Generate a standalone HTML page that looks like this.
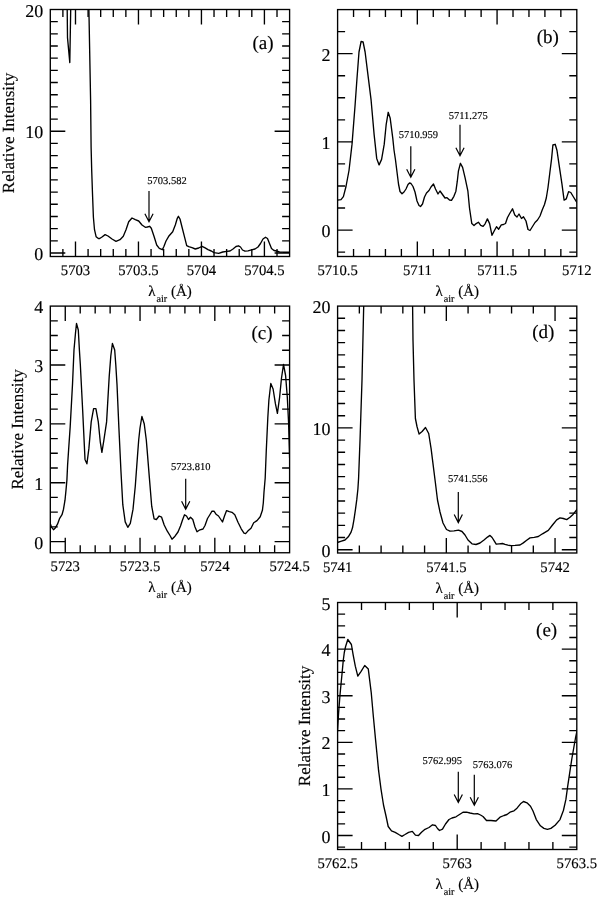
<!DOCTYPE html>
<html><head><meta charset="utf-8"><style>
html,body{margin:0;padding:0;background:#fff;}
svg{display:block;will-change:transform;}
text{font-family:"Liberation Serif", serif;fill:#000;text-rendering:geometricPrecision;stroke:#000;stroke-width:0.15px;}
</style></head><body>
<svg width="600" height="897" viewBox="0 0 600 897">
<rect width="600" height="897" fill="#fff"/>
<path d="M62.89 256.5V249.0M62.89 9.5V17.0M75.49 256.5V241.5M75.49 9.5V24.5M88.08 256.5V249.0M88.08 9.5V17.0M100.68 256.5V249.0M100.68 9.5V17.0M113.27 256.5V249.0M113.27 9.5V17.0M125.87 256.5V249.0M125.87 9.5V17.0M138.46 256.5V241.5M138.46 9.5V24.5M151.06 256.5V249.0M151.06 9.5V17.0M163.65 256.5V249.0M163.65 9.5V17.0M176.25 256.5V249.0M176.25 9.5V17.0M188.84 256.5V249.0M188.84 9.5V17.0M201.44 256.5V241.5M201.44 9.5V24.5M214.03 256.5V249.0M214.03 9.5V17.0M226.63 256.5V249.0M226.63 9.5V17.0M239.22 256.5V249.0M239.22 9.5V17.0M251.82 256.5V249.0M251.82 9.5V17.0M264.41 256.5V241.5M264.41 9.5V24.5M277.01 256.5V249.0M277.01 9.5V17.0M50.3 252.97H65.3M289.6 252.97H274.6M50.3 240.80H57.8M289.6 240.80H282.1M50.3 228.62H57.8M289.6 228.62H282.1M50.3 216.45H57.8M289.6 216.45H282.1M50.3 204.28H57.8M289.6 204.28H282.1M50.3 192.10H57.8M289.6 192.10H282.1M50.3 179.93H57.8M289.6 179.93H282.1M50.3 167.76H57.8M289.6 167.76H282.1M50.3 155.58H57.8M289.6 155.58H282.1M50.3 143.41H57.8M289.6 143.41H282.1M50.3 131.23H65.3M289.6 131.23H274.6M50.3 119.06H57.8M289.6 119.06H282.1M50.3 106.89H57.8M289.6 106.89H282.1M50.3 94.71H57.8M289.6 94.71H282.1M50.3 82.54H57.8M289.6 82.54H282.1M50.3 70.37H57.8M289.6 70.37H282.1M50.3 58.19H57.8M289.6 58.19H282.1M50.3 46.02H57.8M289.6 46.02H282.1M50.3 33.85H57.8M289.6 33.85H282.1M50.3 21.67H57.8M289.6 21.67H282.1" stroke="#000" stroke-width="1.35" fill="none"/>
<rect x="50.3" y="9.5" width="239.30" height="247.00" stroke="#000" stroke-width="1.35" fill="none"/>
<text x="75.49" y="275.00" font-size="14.7" text-anchor="middle">5703</text>
<text x="138.46" y="275.00" font-size="14.7" text-anchor="middle">5703.5</text>
<text x="201.44" y="275.00" font-size="14.7" text-anchor="middle">5704</text>
<text x="264.41" y="275.00" font-size="14.7" text-anchor="middle">5704.5</text>
<text x="43.30" y="259.97" font-size="18" text-anchor="end">0</text>
<text x="43.30" y="138.23" font-size="18" text-anchor="end">10</text>
<text x="43.30" y="16.50" font-size="18" text-anchor="end">20</text>
<text x="169.95" y="296.00" font-size="15" text-anchor="middle">λ<tspan font-size="10.2" dx="1" dy="6.2">air</tspan><tspan dy="-6.2"> (Å)</tspan></text>
<path d="M353.55 256.5V249.0M353.55 9.6V17.1M369.49 256.5V249.0M369.49 9.6V17.1M385.44 256.5V249.0M385.44 9.6V17.1M401.39 256.5V249.0M401.39 9.6V17.1M417.33 256.5V241.5M417.33 9.6V24.6M433.28 256.5V249.0M433.28 9.6V17.1M449.23 256.5V249.0M449.23 9.6V17.1M465.17 256.5V249.0M465.17 9.6V17.1M481.12 256.5V249.0M481.12 9.6V17.1M497.07 256.5V241.5M497.07 9.6V24.6M513.01 256.5V249.0M513.01 9.6V17.1M528.96 256.5V249.0M528.96 9.6V17.1M544.91 256.5V249.0M544.91 9.6V17.1M560.85 256.5V249.0M560.85 9.6V17.1M337.6 252.09H345.1M576.8 252.09H569.3M337.6 230.05H352.6M576.8 230.05H561.8M337.6 208.00H345.1M576.8 208.00H569.3M337.6 185.96H345.1M576.8 185.96H569.3M337.6 163.91H345.1M576.8 163.91H569.3M337.6 141.87H352.6M576.8 141.87H561.8M337.6 119.82H345.1M576.8 119.82H569.3M337.6 97.78H345.1M576.8 97.78H569.3M337.6 75.73H345.1M576.8 75.73H569.3M337.6 53.69H352.6M576.8 53.69H561.8M337.6 31.64H345.1M576.8 31.64H569.3" stroke="#000" stroke-width="1.35" fill="none"/>
<rect x="337.6" y="9.6" width="239.20" height="246.90" stroke="#000" stroke-width="1.35" fill="none"/>
<text x="337.60" y="275.00" font-size="14.7" text-anchor="middle">5710.5</text>
<text x="417.33" y="275.00" font-size="14.7" text-anchor="middle">5711</text>
<text x="497.07" y="275.00" font-size="14.7" text-anchor="middle">5711.5</text>
<text x="576.80" y="275.00" font-size="14.7" text-anchor="middle">5712</text>
<text x="330.60" y="237.05" font-size="18" text-anchor="end">0</text>
<text x="330.60" y="148.87" font-size="18" text-anchor="end">1</text>
<text x="330.60" y="60.69" font-size="18" text-anchor="end">2</text>
<text x="457.20" y="296.00" font-size="15" text-anchor="middle">λ<tspan font-size="10.2" dx="1" dy="6.2">air</tspan><tspan dy="-6.2"> (Å)</tspan></text>
<path d="M65.26 552.75V537.75M65.26 306.1V321.1M80.21 552.75V545.25M80.21 306.1V313.6M95.17 552.75V545.25M95.17 306.1V313.6M110.13 552.75V545.25M110.13 306.1V313.6M125.08 552.75V545.25M125.08 306.1V313.6M140.04 552.75V537.75M140.04 306.1V321.1M154.99 552.75V545.25M154.99 306.1V313.6M169.95 552.75V545.25M169.95 306.1V313.6M184.91 552.75V545.25M184.91 306.1V313.6M199.86 552.75V545.25M199.86 306.1V313.6M214.82 552.75V537.75M214.82 306.1V321.1M229.78 552.75V545.25M229.78 306.1V313.6M244.73 552.75V545.25M244.73 306.1V313.6M259.69 552.75V545.25M259.69 306.1V313.6M274.64 552.75V545.25M274.64 306.1V313.6M50.3 541.57H65.3M289.6 541.57H274.6M50.3 526.85H57.8M289.6 526.85H282.1M50.3 512.13H57.8M289.6 512.13H282.1M50.3 497.42H57.8M289.6 497.42H282.1M50.3 482.70H65.3M289.6 482.70H274.6M50.3 467.98H57.8M289.6 467.98H282.1M50.3 453.27H57.8M289.6 453.27H282.1M50.3 438.55H57.8M289.6 438.55H282.1M50.3 423.83H65.3M289.6 423.83H274.6M50.3 409.12H57.8M289.6 409.12H282.1M50.3 394.40H57.8M289.6 394.40H282.1M50.3 379.68H57.8M289.6 379.68H282.1M50.3 364.97H65.3M289.6 364.97H274.6M50.3 350.25H57.8M289.6 350.25H282.1M50.3 335.53H57.8M289.6 335.53H282.1M50.3 320.82H57.8M289.6 320.82H282.1" stroke="#000" stroke-width="1.35" fill="none"/>
<rect x="50.3" y="306.1" width="239.30" height="246.65" stroke="#000" stroke-width="1.35" fill="none"/>
<text x="65.26" y="571.25" font-size="14.7" text-anchor="middle">5723</text>
<text x="140.04" y="571.25" font-size="14.7" text-anchor="middle">5723.5</text>
<text x="214.82" y="571.25" font-size="14.7" text-anchor="middle">5724</text>
<text x="289.60" y="571.25" font-size="14.7" text-anchor="middle">5724.5</text>
<text x="43.30" y="548.57" font-size="18" text-anchor="end">0</text>
<text x="43.30" y="489.70" font-size="18" text-anchor="end">1</text>
<text x="43.30" y="430.83" font-size="18" text-anchor="end">2</text>
<text x="43.30" y="371.97" font-size="18" text-anchor="end">3</text>
<text x="43.30" y="313.10" font-size="18" text-anchor="end">4</text>
<text x="169.95" y="592.25" font-size="15" text-anchor="middle">λ<tspan font-size="10.2" dx="1" dy="6.2">air</tspan><tspan dy="-6.2"> (Å)</tspan></text>
<path d="M359.35 553V545.5M359.35 306.1V313.6M381.09 553V545.5M381.09 306.1V313.6M402.84 553V545.5M402.84 306.1V313.6M424.58 553V545.5M424.58 306.1V313.6M446.33 553V538M446.33 306.1V321.1M468.07 553V545.5M468.07 306.1V313.6M489.82 553V545.5M489.82 306.1V313.6M511.56 553V545.5M511.56 306.1V313.6M533.31 553V545.5M533.31 306.1V313.6M555.05 553V538M555.05 306.1V321.1M337.6 549.71H352.6M576.8 549.71H561.8M337.6 537.53H345.1M576.8 537.53H569.3M337.6 525.35H345.1M576.8 525.35H569.3M337.6 513.17H345.1M576.8 513.17H569.3M337.6 500.99H345.1M576.8 500.99H569.3M337.6 488.81H345.1M576.8 488.81H569.3M337.6 476.63H345.1M576.8 476.63H569.3M337.6 464.45H345.1M576.8 464.45H569.3M337.6 452.27H345.1M576.8 452.27H569.3M337.6 440.09H345.1M576.8 440.09H569.3M337.6 427.91H352.6M576.8 427.91H561.8M337.6 415.73H345.1M576.8 415.73H569.3M337.6 403.54H345.1M576.8 403.54H569.3M337.6 391.36H345.1M576.8 391.36H569.3M337.6 379.18H345.1M576.8 379.18H569.3M337.6 367.00H345.1M576.8 367.00H569.3M337.6 354.82H345.1M576.8 354.82H569.3M337.6 342.64H345.1M576.8 342.64H569.3M337.6 330.46H345.1M576.8 330.46H569.3M337.6 318.28H345.1M576.8 318.28H569.3" stroke="#000" stroke-width="1.35" fill="none"/>
<rect x="337.6" y="306.1" width="239.20" height="246.90" stroke="#000" stroke-width="1.35" fill="none"/>
<text x="337.60" y="571.50" font-size="14.7" text-anchor="middle">5741</text>
<text x="446.33" y="571.50" font-size="14.7" text-anchor="middle">5741.5</text>
<text x="555.05" y="571.50" font-size="14.7" text-anchor="middle">5742</text>
<text x="330.60" y="556.71" font-size="18" text-anchor="end">0</text>
<text x="330.60" y="434.91" font-size="18" text-anchor="end">10</text>
<text x="330.60" y="313.10" font-size="18" text-anchor="end">20</text>
<text x="457.20" y="592.50" font-size="15" text-anchor="middle">λ<tspan font-size="10.2" dx="1" dy="6.2">air</tspan><tspan dy="-6.2"> (Å)</tspan></text>
<path d="M361.52 849.5V842.0M361.52 602.5V610.0M385.44 849.5V842.0M385.44 602.5V610.0M409.36 849.5V842.0M409.36 602.5V610.0M433.28 849.5V842.0M433.28 602.5V610.0M457.20 849.5V834.5M457.20 602.5V617.5M481.12 849.5V842.0M481.12 602.5V610.0M505.04 849.5V842.0M505.04 602.5V610.0M528.96 849.5V842.0M528.96 602.5V610.0M552.88 849.5V842.0M552.88 602.5V610.0M337.6 847.17H345.1M576.8 847.17H569.3M337.6 835.52H352.6M576.8 835.52H561.8M337.6 823.87H345.1M576.8 823.87H569.3M337.6 812.22H345.1M576.8 812.22H569.3M337.6 800.57H345.1M576.8 800.57H569.3M337.6 788.92H352.6M576.8 788.92H561.8M337.6 777.26H345.1M576.8 777.26H569.3M337.6 765.61H345.1M576.8 765.61H569.3M337.6 753.96H345.1M576.8 753.96H569.3M337.6 742.31H352.6M576.8 742.31H561.8M337.6 730.66H345.1M576.8 730.66H569.3M337.6 719.01H345.1M576.8 719.01H569.3M337.6 707.36H345.1M576.8 707.36H569.3M337.6 695.71H352.6M576.8 695.71H561.8M337.6 684.06H345.1M576.8 684.06H569.3M337.6 672.41H345.1M576.8 672.41H569.3M337.6 660.75H345.1M576.8 660.75H569.3M337.6 649.10H352.6M576.8 649.10H561.8M337.6 637.45H345.1M576.8 637.45H569.3M337.6 625.80H345.1M576.8 625.80H569.3M337.6 614.15H345.1M576.8 614.15H569.3" stroke="#000" stroke-width="1.35" fill="none"/>
<rect x="337.6" y="602.5" width="239.20" height="247.00" stroke="#000" stroke-width="1.35" fill="none"/>
<text x="337.60" y="868.00" font-size="14.7" text-anchor="middle">5762.5</text>
<text x="457.20" y="868.00" font-size="14.7" text-anchor="middle">5763</text>
<text x="576.80" y="868.00" font-size="14.7" text-anchor="middle">5763.5</text>
<text x="330.60" y="842.52" font-size="18" text-anchor="end">0</text>
<text x="330.60" y="795.92" font-size="18" text-anchor="end">1</text>
<text x="330.60" y="749.31" font-size="18" text-anchor="end">2</text>
<text x="330.60" y="702.71" font-size="18" text-anchor="end">3</text>
<text x="330.60" y="656.10" font-size="18" text-anchor="end">4</text>
<text x="330.60" y="609.50" font-size="18" text-anchor="end">5</text>
<text x="457.20" y="889.00" font-size="15" text-anchor="middle">λ<tspan font-size="10.2" dx="1" dy="6.2">air</tspan><tspan dy="-6.2"> (Å)</tspan></text>
<text transform="translate(14.0,133.00) rotate(-90)" font-size="17" text-anchor="middle">Relative Intensity</text>
<text transform="translate(22.8,429.43) rotate(-90)" font-size="17" text-anchor="middle">Relative Intensity</text>
<text transform="translate(309.8,726.00) rotate(-90)" font-size="17" text-anchor="middle">Relative Intensity</text>
<text x="273.5" y="48.6" font-size="19" text-anchor="end">(a)</text>
<text x="558.9" y="43.0" font-size="19" text-anchor="end">(b)</text>
<text x="272.5" y="339.0" font-size="19" text-anchor="end">(c)</text>
<text x="554.4" y="337.5" font-size="19" text-anchor="end">(d)</text>
<text x="557.2" y="635.5" font-size="19" text-anchor="end">(e)</text>
<text x="147.3" y="184.0" font-size="10.5">5703.582</text>
<path d="M149.0 191V221.8M144.9 213.8L149.0 221.8L153.1 213.8" stroke="#000" stroke-width="1.2" fill="none"/>
<text x="398.7" y="138.0" font-size="10.5">5710.959</text>
<path d="M410.8 146.3V177.3M406.7 169.3L410.8 177.3L414.90000000000003 169.3" stroke="#000" stroke-width="1.2" fill="none"/>
<text x="448.7" y="119.2" font-size="10.5">5711.275</text>
<path d="M460.0 124.7V155.8M455.9 147.8L460.0 155.8L464.1 147.8" stroke="#000" stroke-width="1.2" fill="none"/>
<text x="171.0" y="470.3" font-size="10.5">5723.810</text>
<path d="M185.7 478.7V509.3M181.6 501.3L185.7 509.3L189.79999999999998 501.3" stroke="#000" stroke-width="1.2" fill="none"/>
<text x="448.0" y="481.6" font-size="10.5">5741.556</text>
<path d="M458.3 492.0V522.6M454.2 514.6L458.3 522.6L462.40000000000003 514.6" stroke="#000" stroke-width="1.2" fill="none"/>
<text x="422.5" y="763.7" font-size="10.5">5762.995</text>
<path d="M458.3 771.8V802.5M454.2 794.5L458.3 802.5L462.40000000000003 794.5" stroke="#000" stroke-width="1.2" fill="none"/>
<text x="472.8" y="768.3" font-size="10.5">5763.076</text>
<path d="M474.3 774.7V805.3M470.2 797.3L474.3 805.3L478.40000000000003 797.3" stroke="#000" stroke-width="1.2" fill="none"/>
<clipPath id="cpa"><rect x="50.3" y="9.5" width="239.30" height="247.00"/></clipPath>
<polyline clip-path="url(#cpa)" points="66.8,-30.0 67.2,9.7 67.5,37.6 69.8,62.6 70.7,9.7 71.0,-30.0 88.4,-30.0 88.9,9.5 90.6,100.0 91.1,146.9 91.7,170.3 92.5,193.8 93.4,217.2 94.5,229.7 96.1,236.7 98.4,238.6 99.7,238.5 102.0,237.0 105.1,234.6 108.0,236.0 112.0,239.0 116.0,241.3 120.0,239.7 123.3,236.3 126.0,229.7 128.7,221.7 132.0,218.0 135.3,219.7 138.7,221.0 142.0,225.0 145.3,227.3 147.3,227.0 149.6,226.3 151.3,228.3 154.0,236.3 156.7,245.0 159.3,248.3 162.4,249.7 164.0,246.3 166.0,241.0 168.7,236.3 172.7,231.7 175.3,225.0 177.3,218.3 178.4,216.3 180.0,219.0 182.0,227.0 184.7,237.7 186.7,245.7 188.7,246.7 192.0,247.7 195.3,249.0 198.7,248.0 202.0,246.3 204.7,247.7 208.0,249.7 211.3,251.0 214.0,252.6 218.7,253.3 222.7,252.0 226.7,251.3 230.0,251.0 233.0,249.0 236.0,246.5 238.5,245.8 240.5,247.0 242.5,250.0 245.0,251.2 248.0,250.8 251.5,249.8 255.0,249.0 258.0,247.0 260.5,243.5 263.0,239.0 265.5,237.2 267.5,238.5 269.5,243.5 271.5,248.5 274.0,250.5 276.5,251.0 279.5,252.0 283.0,252.2 290.0,252.2" stroke="#000" stroke-width="1.35" fill="none" stroke-linejoin="round"/>
<clipPath id="cpb"><rect x="337.6" y="9.6" width="239.20" height="246.90"/></clipPath>
<polyline clip-path="url(#cpb)" points="337.6,200.2 341.0,199.6 343.4,196.6 346.0,186.5 349.0,170.5 352.0,144.4 355.0,106.3 357.0,78.2 359.0,52.0 361.1,41.5 363.1,42.0 365.1,52.0 368.1,76.2 371.1,100.2 374.1,134.4 376.7,158.4 379.1,164.9 381.6,159.4 384.2,144.4 386.2,124.3 388.2,112.3 390.2,118.3 392.8,138.4 394.0,150.0 395.5,160.0 397.0,172.0 398.5,184.0 400.0,191.5 402.0,193.8 404.0,192.0 406.0,189.0 408.0,184.5 409.5,183.0 411.0,183.5 413.0,186.5 415.0,192.0 417.0,201.0 419.0,205.5 420.5,206.5 422.5,204.0 424.5,197.0 426.5,193.0 429.0,190.5 431.0,187.0 433.5,184.0 435.5,189.0 438.0,194.0 440.0,191.0 442.5,194.5 445.0,198.0 447.0,197.7 449.5,200.0 451.5,200.4 453.9,196.3 455.9,191.2 457.3,181.2 458.4,171.2 460.4,163.3 462.6,167.3 465.1,177.9 467.9,191.2 469.5,208.0 471.8,223.6 474.0,225.6 476.2,223.6 478.4,222.2 480.7,225.3 483.1,226.4 485.1,223.8 487.4,218.9 489.6,223.6 492.0,235.3 494.3,230.8 496.5,226.7 498.7,229.2 501.3,224.9 503.5,224.5 505.5,223.5 507.5,217.5 510.0,213.0 512.5,208.8 514.8,215.0 517.0,217.0 519.0,214.0 521.5,218.5 523.5,216.8 526.0,221.0 528.0,229.5 530.0,230.5 532.5,226.5 535.0,222.5 537.5,220.0 540.0,216.0 542.2,210.0 544.5,204.5 546.3,198.0 548.0,187.5 549.8,173.0 551.6,158.6 552.9,145.0 555.2,144.3 557.0,150.5 559.2,165.7 561.9,183.6 564.1,200.1 566.3,198.8 568.6,191.6 570.8,192.5 573.5,197.0 576.2,201.4 578.0,204.0" stroke="#000" stroke-width="1.35" fill="none" stroke-linejoin="round"/>
<clipPath id="cpc"><rect x="50.3" y="306.1" width="239.30" height="246.65"/></clipPath>
<polyline clip-path="url(#cpc)" points="50.0,523.0 50.5,524.2 51.5,527.2 53.5,529.7 55.5,527.7 57.5,524.2 59.5,518.7 62.0,514.7 63.5,509.2 65.0,500.2 66.0,490.1 66.9,480.1 67.6,465.0 68.6,450.0 70.2,426.6 72.5,384.4 74.0,349.7 75.5,333.0 76.5,323.5 78.3,330.0 79.4,350.0 80.3,364.0 82.7,411.0 85.0,459.4 86.9,463.8 88.9,448.4 91.2,421.9 93.6,408.6 95.9,408.6 98.3,421.9 100.3,442.2 101.9,452.3 103.8,440.6 106.6,421.9 109.2,376.6 110.8,356.0 112.4,343.5 114.7,350.0 115.8,365.0 117.0,384.4 118.9,428.0 120.9,470.3 122.8,504.7 125.2,521.9 127.8,527.3 130.3,523.4 133.0,509.4 135.3,486.0 137.7,453.1 138.7,440.0 140.0,428.0 141.9,416.5 144.2,423.7 146.3,440.0 147.0,448.4 149.4,478.1 151.7,506.2 154.1,518.8 156.4,519.5 159.1,516.0 161.6,517.2 164.2,525.0 167.3,531.2 170.0,535.5 172.0,539.2 175.0,536.2 178.0,532.0 180.5,526.0 182.5,520.0 184.5,514.8 186.5,516.0 188.5,519.5 190.5,517.2 192.8,519.5 195.0,527.0 197.0,531.8 200.0,529.8 203.0,529.0 205.0,525.5 207.5,518.5 210.0,514.5 212.0,511.2 214.0,511.2 216.0,514.2 218.5,516.0 220.5,519.0 222.5,522.0 224.5,516.0 226.6,510.6 229.3,511.6 232.0,512.3 234.8,514.7 238.0,522.3 241.2,528.8 244.0,533.1 245.6,533.6 247.8,531.1 251.0,528.2 253.7,522.8 257.0,520.6 260.2,516.8 262.4,510.3 263.3,503.0 264.0,492.0 265.2,478.0 266.3,450.0 267.8,418.0 268.9,400.0 270.8,383.5 273.1,389.0 275.4,403.7 277.4,413.3 279.6,397.3 281.5,378.0 283.5,364.5 285.6,375.5 287.3,397.3 288.6,423.0 289.2,444.7 289.6,457.6 290.5,475.0" stroke="#000" stroke-width="1.35" fill="none" stroke-linejoin="round"/>
<clipPath id="cpd"><rect x="337.6" y="306.1" width="239.20" height="246.90"/></clipPath>
<polyline clip-path="url(#cpd)" points="336.0,543.0 337.4,542.5 340.7,541.3 345.0,540.0 348.3,536.8 351.1,532.1 352.5,527.8 354.0,519.3 355.4,509.8 356.8,499.4 357.9,489.0 358.6,478.0 360.0,440.6 362.0,380.3 363.7,306.0 364.3,280.0 412.4,280.0 412.6,306.0 413.0,340.2 414.0,380.3 415.4,418.5 417.0,426.5 419.1,434.1 422.1,431.5 425.5,427.5 428.7,433.5 431.1,448.6 433.1,464.7 435.3,482.0 437.5,500.0 440.0,512.0 443.0,523.0 446.5,529.5 450.0,531.2 454.0,530.8 458.5,530.2 462.0,531.5 465.0,535.0 468.0,540.0 472.0,543.8 476.0,544.5 480.0,543.0 484.0,540.0 487.5,537.1 490.0,535.4 492.1,537.5 494.2,540.8 496.2,544.2 499.2,543.9 502.5,543.5 505.0,544.4 507.9,545.2 511.2,545.6 515.0,545.4 520.0,545.0 523.3,542.9 526.7,540.2 530.0,537.9 534.2,537.3 538.3,536.5 542.5,533.8 548.3,530.4 552.5,525.0 556.7,519.8 560.0,517.9 563.3,518.5 566.7,519.6 570.0,517.3 573.3,514.2 576.2,510.4 578.0,508.0" stroke="#000" stroke-width="1.35" fill="none" stroke-linejoin="round"/>
<clipPath id="cpe"><rect x="337.6" y="602.5" width="239.20" height="247.00"/></clipPath>
<polyline clip-path="url(#cpe)" points="337.0,738.0 337.6,728.6 338.6,712.6 340.1,693.8 342.0,674.0 343.3,660.0 344.3,652.5 345.6,646.5 347.8,639.5 351.4,644.5 353.1,654.6 355.3,666.2 357.8,676.1 361.1,671.3 364.7,665.5 368.3,669.1 371.2,692.3 373.4,717.0 375.6,740.1 376.8,752.3 378.6,770.7 381.0,789.1 383.5,805.0 386.0,816.0 388.2,826.5 391.5,830.8 395.2,832.3 398.8,834.5 401.9,836.3 405.0,834.5 408.6,832.3 412.3,831.4 415.4,835.1 418.5,835.5 421.5,832.3 425.0,829.3 429.0,827.5 432.5,824.8 435.5,825.5 437.5,828.5 439.5,830.5 442.5,829.2 445.5,824.0 449.0,819.5 452.0,818.0 456.0,816.8 459.5,814.5 463.0,812.2 466.5,812.2 470.0,813.0 474.0,813.8 477.5,813.7 480.5,815.0 483.0,816.5 486.5,820.5 491.0,820.5 496.0,821.0 500.0,817.2 504.0,815.5 507.0,814.5 510.0,812.2 514.0,810.8 517.0,808.2 520.5,803.8 523.5,801.5 527.0,802.8 530.5,806.2 533.0,811.0 536.3,819.6 540.4,825.8 543.9,828.4 547.4,829.3 550.9,828.4 555.1,825.2 560.0,819.6 563.4,810.5 565.9,799.4 567.6,786.9 569.7,772.9 571.8,759.0 573.9,747.0 575.5,738.0 576.8,732.0 578.5,724.0" stroke="#000" stroke-width="1.35" fill="none" stroke-linejoin="round"/>
</svg></body></html>
